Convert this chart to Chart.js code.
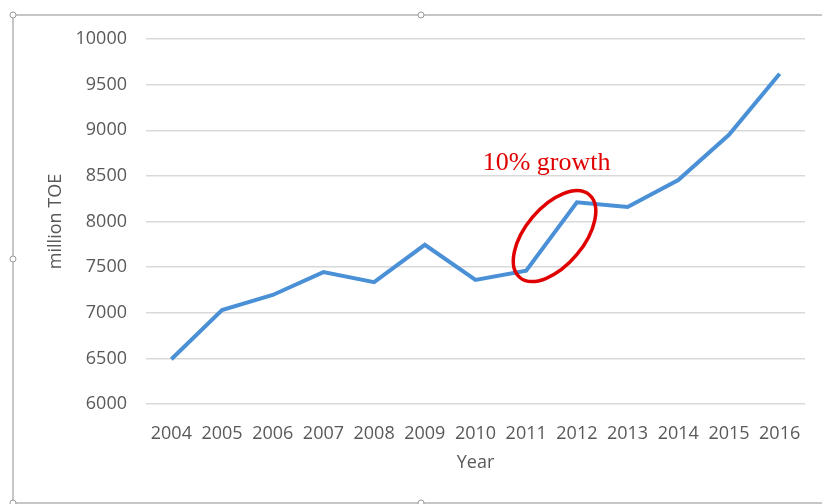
<!DOCTYPE html>
<html>
<head>
<meta charset="utf-8">
<script src="https://cdn.jsdelivr.net/npm/chart.js@4"></script>
<style>
  html, body { margin: 0; padding: 0; background: #fff; }
  #wrap { width: 822px; height: 504px; }
</style>
</head>
<body>
<div id="wrap"><canvas id="energyChart" width="822" height="504"></canvas></div>
<script>
// dados
const years = ['2004', '2005', '2006', '2007', '2008', '2009', '2010', '2011', '2012', '2013', '2014', '2015', '2016'];
const consumption = [6490, 7030, 7195, 7445, 7335, 7745, 7360, 7460, 8210, 8160, 8455, 8950, 9620];
const yTicks = [6000, 6500, 7000, 7500, 8000, 8500, 9000, 9500, 10000];
const noteText = '10% growth';

const tickFont = { family: '"Open Sans", sans-serif', size: 18 };
const greyText = '#595959';

// moldura e alcas do objeto (como no print do Excel)
const framePlugin = {
    id: 'frame',
    beforeDraw(chart) {
        const ctx = chart.ctx;
        ctx.save();
        ctx.strokeStyle = '#b4b4b4';
        ctx.lineWidth = 1.5;
        ctx.strokeRect(13, 15, 840, 488);
        const handles = [[13, 15], [421, 15], [13, 259], [13, 503], [421, 503]];
        handles.forEach(([hx, hy]) => {
            ctx.beginPath();
            ctx.arc(hx, hy, 3, 0, Math.PI * 2);
            ctx.fillStyle = '#fff';
            ctx.fill();
            ctx.lineWidth = 1;
            ctx.strokeStyle = '#9a9a9a';
            ctx.stroke();
        });
        ctx.restore();
    }
};

// elipse vermelha e texto "10% growth"
const notePlugin = {
    id: 'note',
    afterDatasetsDraw(chart) {
        const { ctx, scales: { x, y } } = chart;
        const cx = (x.getPixelForValue(7) + x.getPixelForValue(8)) / 2 + 3;
        const cy = y.getPixelForValue(7840);
        ctx.save();
        ctx.beginPath();
        ctx.ellipse(cx, cy, 54, 29, -50 * Math.PI / 180, 0, Math.PI * 2);
        ctx.strokeStyle = '#e00000';
        ctx.lineWidth = 3.5;
        ctx.stroke();
        ctx.fillStyle = '#e00000';
        ctx.font = '26px "Liberation Serif", "Times New Roman", serif';
        ctx.textAlign = 'center';
        ctx.textBaseline = 'middle';
        ctx.fillText(noteText, cx - 8, y.getPixelForValue(8635));
        ctx.restore();
    }
};

const ctx = document.getElementById('energyChart').getContext('2d');
const chart = new Chart(ctx, {
    type: 'line',
    data: {
        labels: years,
        datasets: [{
            label: 'million TOE',
            data: consumption,
            borderColor: '#4a90d6',
            borderWidth: 4,
            pointRadius: 0,
            tension: 0,
            fill: false
        }]
    },
    options: {
        responsive: false,
        animation: false,
        layout: { padding: { top: 39, right: 17, left: 0, bottom: 0 } },
        plugins: {
            legend: { display: false },
            tooltip: { enabled: false }
        },
        scales: {
            x: {
                offset: true,
                grid: { display: false },
                border: { display: false },
                ticks: { color: greyText, font: tickFont, padding: 11, maxRotation: 0, autoSkip: false },
                title: { display: true, text: 'Year', color: greyText, font: tickFont, padding: { top: 0, bottom: 30 } },
                afterFit(scale) { scale.height = 100; }
            },
            y: {
                min: 6000,
                max: 10000,
                afterBuildTicks(scale) { scale.ticks = yTicks.map(v => ({ value: v })); },
                grid: { color: '#d9d9d9', lineWidth: 1.5, drawTicks: false },
                border: { display: false },
                ticks: { color: greyText, font: tickFont, padding: 19, callback: v => String(v) },
                title: { display: true, text: 'million TOE', color: greyText, font: tickFont, padding: { top: 45, bottom: 0 } },
                afterFit(scale) { scale.width = 146; }
            }
        }
    },
    plugins: [framePlugin, notePlugin]
});
</script>
</body>
</html>
